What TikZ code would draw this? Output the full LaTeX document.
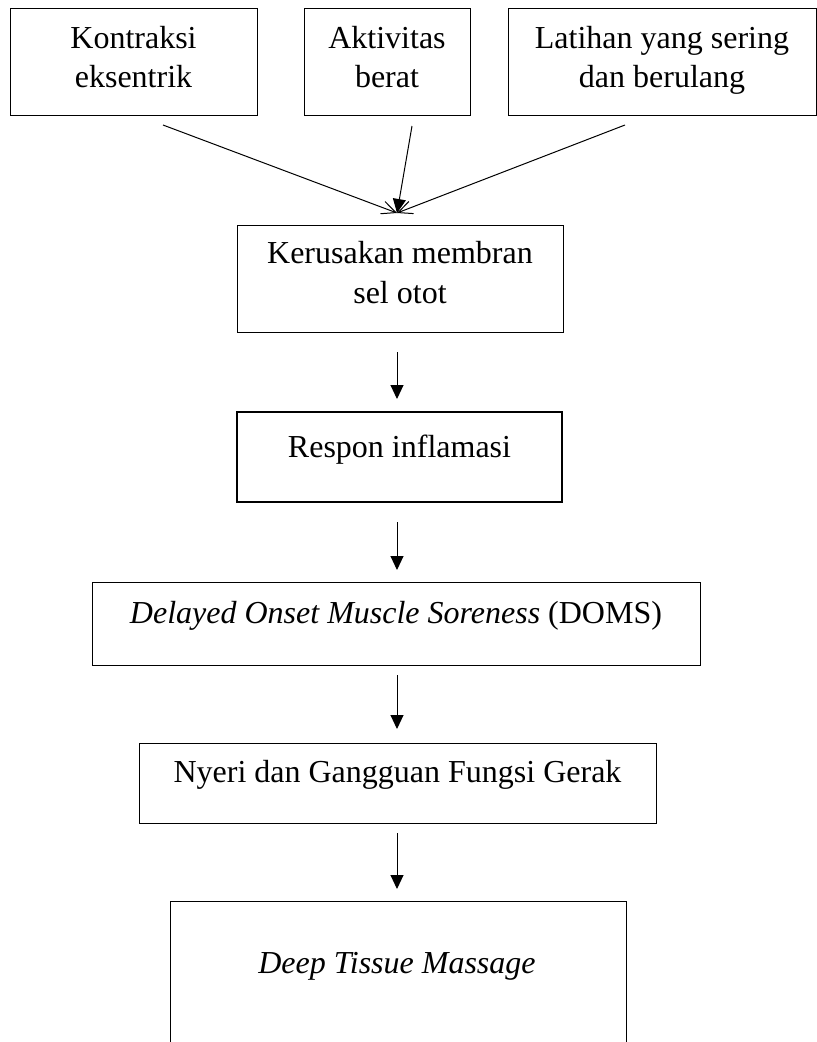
\documentclass[tikz,border=0pt]{standalone}
\usepackage{fontspec}
\setmainfont{Liberation Serif}
\usetikzlibrary{arrows.meta}
\begin{document}
\begin{tikzpicture}[x=0.75pt,y=-0.75pt,
  box/.style={draw, line width=0.75pt, inner sep=0pt, rectangle},
  thickbox/.style={box, line width=1.6pt},
  txt/.style={inner sep=0pt, anchor=base, font=\fontsize{24}{30}\selectfont},
  arr/.style={line width=0.75pt, -{Triangle[length=10.5pt,width=9.75pt]}},
  oarr/.style={line width=0.75pt, -{Straight Barb[length=10.5pt,width=9.75pt]}}]
\useasboundingbox (0,0) rectangle (817,1042);
\fill[white] (0,0) rectangle (817,1042);

% top boxes
\node[box, minimum width=247*0.75pt, minimum height=107*0.75pt] (k1) at (133.5,61.5) {};
\node[box, minimum width=166*0.75pt, minimum height=107*0.75pt] (k2) at (387,61.5) {};
\node[box, minimum width=308*0.75pt, minimum height=107*0.75pt] (k3) at (662,61.5) {};
\node[txt] (k1a) at (133.5,48) {Kontraksi};
\node[txt] (k1b) at (133.5,87) {eksentrik};
\node[txt] (k2a) at (387,48) {Aktivitas};
\node[txt] (k2b) at (387,87) {berat};
\node[txt] (k3a) at (662,48) {Latihan yang sering};
\node[txt] (k3b) at (662,87) {dan berulang};

% Kerusakan
\node[box, minimum width=326*0.75pt, minimum height=107*0.75pt] (kr) at (400,278.5) {};
\node[txt] (kra) at (400,263) {Kerusakan membran};
\node[txt] (krb) at (400,303) {sel otot};

% Respon
\node[thickbox, minimum width=325*0.75pt, minimum height=90*0.75pt] (rs) at (399.5,457) {};
\node[txt] (rsa) at (399.5,457) {Respon inflamasi};

% DOMS
\node[box, minimum width=608*0.75pt, minimum height=83*0.75pt] (dm) at (396,623.5) {};
\node[txt] (dma) at (396,623) {\textit{Delayed Onset Muscle Soreness} (DOMS)};

% Nyeri
\node[box, minimum width=517*0.75pt, minimum height=80*0.75pt] (ny) at (397.5,783) {};
\node[txt] (nya) at (397.5,782) {Nyeri dan Gangguan Fungsi Gerak};

% Deep Tissue Massage (open at the bottom edge)
\node[box, minimum width=456*0.75pt, minimum height=180*0.75pt] (dt) at (398,991) {};
\node[txt] (dta) at (397,973) {\textit{Deep Tissue Massage}};

% connector ends
\coordinate (s1) at (163,125);
\coordinate (s2) at (412,126);
\coordinate (s3) at (625,125);
\coordinate (m) at (397,213);
\coordinate (v1s) at (397,352);
\coordinate (v1e) at (397,399);
\coordinate (v2s) at (397,522);
\coordinate (v2e) at (397,570);
\coordinate (v3s) at (397,675);
\coordinate (v3e) at (397,729);
\coordinate (v4s) at (397,833);
\coordinate (v4e) at (397,889);

\draw[oarr] (s1) -- (m);
\draw[oarr] (s3) -- (m);
\draw[arr] (s2) -- (m);
\draw[arr] (v1s) -- (v1e);
\draw[arr] (v2s) -- (v2e);
\draw[arr] (v3s) -- (v3e);
\draw[arr] (v4s) -- (v4e);
\end{tikzpicture}
\end{document}
